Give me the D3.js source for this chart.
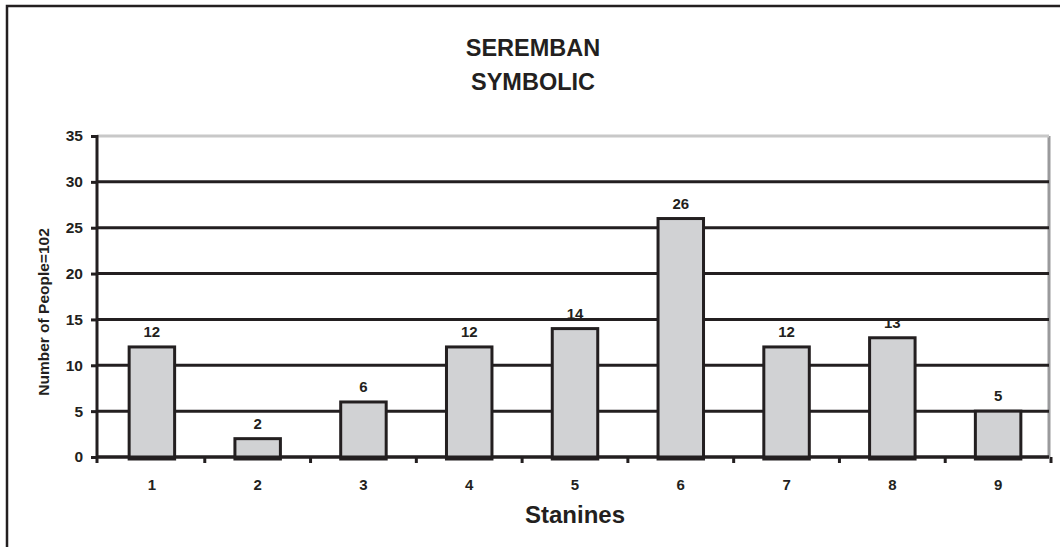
<!DOCTYPE html>
<html>
<head>
<meta charset="utf-8">
<script src="https://cdn.jsdelivr.net/npm/d3@7"></script>
<style>
  html, body { margin: 0; padding: 0; background: #fff; }
  svg { display: block; font-family: Arial, "Liberation Sans", sans-serif; }
</style>
</head>
<body>
<svg id="chart" width="1060" height="547"></svg>
<script>
// Stanine distribution, Seremban – symbolic
const stanines = ["1", "2", "3", "4", "5", "6", "7", "8", "9"];
const counts = [12, 2, 6, 12, 14, 26, 12, 13, 5];
const yTicks = [0, 5, 10, 15, 20, 25, 30, 35];
const titleLines = ["SEREMBAN", "SYMBOLIC"];
const xTitle = "Stanines";
const yTitle = "Number of People=102";

const ink = "#231f20";
const font = "Arial, 'Liberation Sans', sans-serif";
const svg = d3.select("#chart");

// outer frame (runs off the right and bottom edges)
svg.append("rect")
  .attr("x", 7).attr("y", 6)
  .attr("width", 1070).attr("height", 560)
  .attr("fill", "none").attr("stroke", ink).attr("stroke-width", 2.5);

const plot = { left: 97, right: 1049, top: 136, bottom: 457 };

const x = d3.scaleBand()
  .domain(stanines)
  .range([plot.left + 2, plot.right + 2])
  .paddingInner(0.57)
  .paddingOuter(0.285);

const y = d3.scaleLinear().domain([0, 35]).range([plot.bottom, plot.top]);

// right edge of the plot area
svg.append("line")
  .attr("x1", plot.right).attr("x2", plot.right)
  .attr("y1", plot.top).attr("y2", plot.bottom)
  .attr("stroke", "#9a9a9c").attr("stroke-width", 3);

// horizontal gridlines
svg.append("g").selectAll("line")
  .data(yTicks)
  .join("line")
  .attr("x1", plot.left).attr("x2", plot.right)
  .attr("y1", d => y(d)).attr("y2", d => y(d))
  .attr("stroke", d => d === 35 ? "#c8c8c8" : ink)
  .attr("stroke-width", 3);

// y axis
const yAxis = svg.append("g")
  .attr("transform", `translate(${plot.left},0)`)
  .call(d3.axisLeft(y).tickValues(yTicks).tickSize(6).tickSizeOuter(0).tickPadding(8));
yAxis.select(".domain").remove();
yAxis.selectAll(".tick line").attr("stroke", ink).attr("stroke-width", 3);
yAxis.selectAll(".tick text")
  .attr("fill", ink).attr("font-size", 15.5).attr("font-weight", "bold")
  .attr("font-family", font);
yAxis.append("line")
  .attr("x1", 0).attr("x2", 0)
  .attr("y1", plot.top - 1).attr("y2", plot.bottom + 6)
  .attr("stroke", ink).attr("stroke-width", 3);

// x axis: ticks sit on category boundaries
const step = x.step();
const gap = step - x.bandwidth();
const boundaries = stanines.map(s => x(s) + x.bandwidth() + gap / 2);

const bars = svg.append("g");
bars.selectAll("rect")
  .data(counts)
  .join("rect")
  .attr("x", (d, i) => x(stanines[i]))
  .attr("y", d => y(d))
  .attr("width", x.bandwidth())
  .attr("height", d => y(0) - y(d) + 2)
  .attr("fill", "#d1d2d4")
  .attr("stroke", ink)
  .attr("stroke-width", 3);

svg.append("line")
  .attr("x1", plot.left).attr("x2", plot.right)
  .attr("y1", y(0)).attr("y2", y(0))
  .attr("stroke", ink).attr("stroke-width", 3);

svg.append("g").selectAll("line")
  .data(boundaries)
  .join("line")
  .attr("x1", d => d).attr("x2", d => d)
  .attr("y1", y(0)).attr("y2", y(0) + 6)
  .attr("stroke", ink).attr("stroke-width", 3);

svg.append("g").selectAll("text")
  .data(stanines)
  .join("text")
  .attr("x", d => x(d) + x.bandwidth() / 2)
  .attr("y", y(0) + 33)
  .attr("text-anchor", "middle")
  .attr("font-size", 15).attr("font-weight", "bold").attr("fill", ink)
  .text(d => d);

// value labels
svg.append("g").selectAll("text")
  .data(counts)
  .join("text")
  .attr("x", (d, i) => x(stanines[i]) + x.bandwidth() / 2)
  .attr("y", d => y(d) - 10)
  .attr("text-anchor", "middle")
  .attr("font-size", 15).attr("font-weight", "bold").attr("fill", ink)
  .text(d => d);

// titles
svg.append("g").selectAll("text")
  .data(titleLines)
  .join("text")
  .attr("x", 533)
  .attr("y", (d, i) => 56 + i * 34)
  .attr("text-anchor", "middle")
  .attr("font-size", 23.5).attr("font-weight", "bold").attr("fill", ink)
  .text(d => d);

svg.append("text")
  .attr("x", 575).attr("y", 523)
  .attr("text-anchor", "middle")
  .attr("font-size", 24).attr("font-weight", "bold").attr("fill", ink)
  .text(xTitle);

svg.append("text")
  .attr("transform", `translate(49,312) rotate(-90)`)
  .attr("text-anchor", "middle")
  .attr("font-size", 15.5).attr("font-weight", "bold").attr("fill", ink)
  .text(yTitle);
</script>
</body>
</html>
